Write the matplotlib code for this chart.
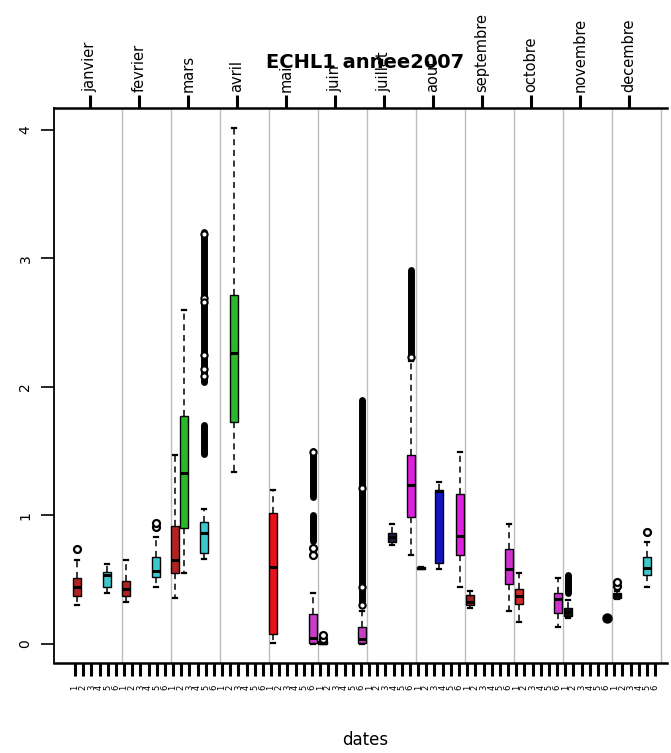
import numpy as np
import matplotlib
matplotlib.use('Agg')
import matplotlib.pyplot as plt

########################## Data ##########################
months = ['janvier', 'fevrier', 'mars', 'avril', 'mai', 'juin', 'juillet',
          'aout', 'septembre', 'octobre', 'novembre', 'decembre']
day_labels = ['1', '2', '3', '4', '5', '6']

# box positions along the date axis (tick index 1..72)
positions = [1.2, 4.9, 7.2, 10.9, 13.2, 14.3, 16.8, 20.5, 25.2, 30.1, 31.3, 36.1, 39.8,
             42.1, 43.3, 45.6, 48.1, 49.3, 54.1, 55.3, 60.1, 61.3, 66.1, 67.3, 71.0]
whislo = [0.30, 0.40, 0.33, 0.44, 0.36, 0.55, 0.66, 1.34, 0.01, 0.00, 0.00, 0.00, 0.77,
          0.69, 0.58, 0.58, 0.44, 0.28, 0.26, 0.17, 0.13, 0.20, 0.20, 0.35, 0.44]
q1 = [0.37, 0.44, 0.37, 0.52, 0.55, 0.90, 0.71, 1.73, 0.08, 0.01, 0.00, 0.01, 0.79,
      0.99, 0.58, 0.63, 0.69, 0.30, 0.47, 0.31, 0.24, 0.22, 0.20, 0.36, 0.54]
med = [0.44, 0.54, 0.43, 0.57, 0.65, 1.33, 0.86, 2.26, 0.60, 0.05, 0.01, 0.04, 0.83,
       1.24, 0.59, 1.19, 0.84, 0.33, 0.58, 0.37, 0.35, 0.25, 0.20, 0.38, 0.59]
q3 = [0.51, 0.56, 0.49, 0.68, 0.92, 1.77, 0.95, 2.71, 1.02, 0.23, 0.02, 0.13, 0.86,
      1.47, 0.60, 1.20, 1.17, 0.38, 0.74, 0.43, 0.40, 0.28, 0.20, 0.40, 0.68]
whishi = [0.65, 0.62, 0.65, 0.83, 1.47, 2.60, 1.05, 4.01, 1.20, 0.40, 0.03, 0.26, 0.93,
          2.20, 0.60, 1.26, 1.49, 0.41, 0.93, 0.55, 0.51, 0.34, 0.20, 0.41, 0.79]
fliers = [[0.74], [], [], [0.91, 0.94], [], [], [], [], [], [0.69, 0.75], [0.04, 0.07],
          [], [], [], [], [], [], [], [], [], [], [], [], [0.45, 0.48], [0.87]]
colors = ['#b22222', '#3cc8cc', '#b22222', '#3cc8cc', '#b22222', '#2cb82c', '#3cc8cc',
          '#2cb82c', '#e8121a', '#c83cc8', '#111111', '#c83cc8', '#1c1c40', '#e020e0',
          '#111111', '#1414c8', '#e020e0', '#a02020', '#d030d0', '#d42a2a', '#d030d0',
          '#111111', '#111111', '#111111', '#3cc8cc']

# dense runs of outliers (position, low, high) that merge into black columns
band_pos = [16.8, 16.8, 30.1, 30.1, 36.1, 42.1, 61.3]
band_lo = [1.48, 2.04, 1.14, 0.80, 0.30, 2.22, 0.40]
band_hi = [1.70, 3.20, 1.50, 1.00, 1.90, 2.91, 0.54]
# single open circles visible inside those columns
open_pos = [16.8, 16.8, 16.8, 16.8, 16.8, 16.8, 30.1, 36.1, 36.1, 36.1, 42.1]
open_val = [3.19, 2.69, 2.66, 2.25, 2.14, 2.08, 1.49, 1.21, 0.44, 0.30, 2.23]
# a lone filled blob
dot_pos = [66.1]
dot_val = [0.20]

########################## Figure ##########################
fig = plt.figure(figsize=(6.71, 7.53), dpi=100)
ax = fig.add_axes([54 / 671, 1 - 663 / 753, 613 / 671, 555 / 753])

n_ticks = 72
for g in np.arange(12) * 6 + 6.75:
    ax.axvline(g, color='#bdbdbd', lw=1.0, zorder=0)

stats = []
for i in range(len(positions)):
    stats.append(dict(whislo=whislo[i], q1=q1[i], med=med[i], q3=q3[i],
                      whishi=whishi[i], fliers=fliers[i]))

bp = ax.bxp(stats, positions=positions, widths=1.0, capwidths=0.5,
            patch_artist=True, manage_ticks=False,
            boxprops=dict(edgecolor='black', linewidth=1.0),
            medianprops=dict(color='black', linewidth=2.2),
            whiskerprops=dict(color='black', linewidth=1.1, linestyle=(0, (4, 3))),
            capprops=dict(color='black', linewidth=1.6),
            flierprops=dict(marker='o', markerfacecolor='white', markeredgecolor='black',
                            markersize=5, markeredgewidth=1.6))
for patch, c in zip(bp['boxes'], colors):
    patch.set_facecolor(c)

for p, lo, hi in zip(band_pos, band_lo, band_hi):
    ax.plot([p, p], [lo, hi], color='black', lw=5, solid_capstyle='round', zorder=3)
ax.plot(open_pos, open_val, 'o', mfc='white', mec='black', ms=4.5, mew=1.5, zorder=4)
ax.plot(dot_pos, dot_val, 'o', color='black', ms=6.5, zorder=4)

ax.set_xlim(-1.57, 73.46)
ax.set_ylim(-0.148, 4.168)

# bottom axis: one tick per slot
tick_idx = np.arange(1, n_ticks + 1)
ax.set_xticks(tick_idx)
ax.set_xticklabels([day_labels[(i - 1) % 6] for i in tick_idx], rotation=90, fontsize=6)
ax.tick_params(axis='x', direction='out', length=9.5, width=2.2, pad=6)
ax.set_yticks([0, 1, 2, 3, 4])
ax.set_yticklabels(['0', '1', '2', '3', '4'], rotation=90, va='center', fontsize=10)
ax.tick_params(axis='y', direction='out', length=9.5, width=1.2, pad=6)

for s in ['left', 'bottom', 'top']:
    ax.spines[s].set_linewidth(1.8)
ax.spines['left'].set_linewidth(1.3)
ax.spines['right'].set_visible(False)

# top axis: months
top = ax.secondary_xaxis('top')
top.set_xticks(np.arange(12) * 6 + 2.8)
top.set_xticklabels(months, rotation=90, fontsize=10.5)
top.tick_params(direction='out', length=9.5, width=2.2, pad=2)
top.spines['top'].set_visible(False)

fig.text(365 / 671, 1 - 63 / 753, 'ECHL1 annee2007', ha='center', va='center',
         fontweight='bold', fontsize=14)
fig.text(365 / 671, 1 - 740 / 753, 'dates', ha='center', va='center', fontsize=12)

fig.savefig('out.png', dpi=100)
